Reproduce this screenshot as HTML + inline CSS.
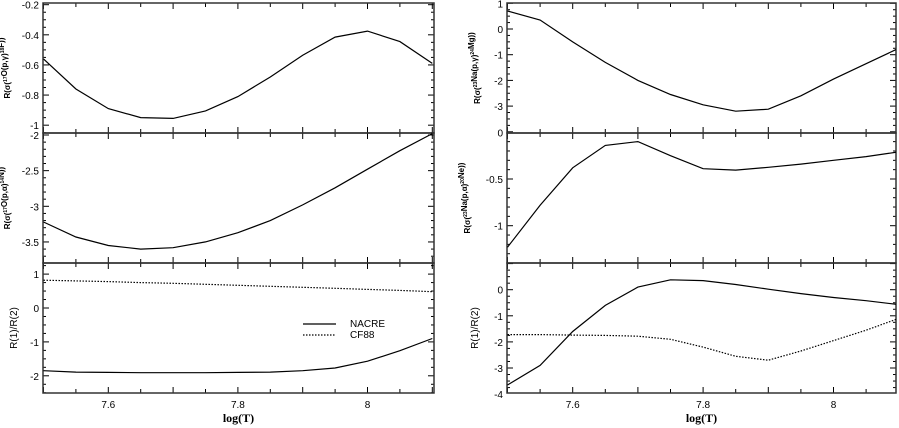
<!DOCTYPE html>
<html><head><meta charset="utf-8"><style>
body{margin:0;background:#fff}
svg{display:block}
text{font-family:"Liberation Sans",sans-serif;font-size:10px;fill:#000}
.yt{font-size:8px;font-weight:bold}
.xt{font-family:"Liberation Serif",serif;font-size:12px;font-weight:bold}
</style></head><body>
<svg id="chart" width="899" height="428" viewBox="0 0 899 428" xmlns="http://www.w3.org/2000/svg"></svg>
<script>
const logT=[7.5,7.55,7.6,7.65,7.7,7.75,7.8,7.85,7.9,7.95,8.0,8.05,8.1];
const o17pg=[-0.56,-0.76,-0.89,-0.95,-0.955,-0.905,-0.81,-0.68,-0.535,-0.415,-0.375,-0.445,-0.59];
const o17pa=[-3.22,-3.43,-3.55,-3.6,-3.58,-3.5,-3.37,-3.2,-2.98,-2.74,-2.48,-2.22,-1.98];
const o17ratioNacre=[-1.85,-1.89,-1.9,-1.91,-1.91,-1.91,-1.9,-1.89,-1.85,-1.77,-1.57,-1.26,-0.9];
const o17ratioCF88=[0.82,0.8,0.78,0.75,0.73,0.7,0.67,0.64,0.61,0.58,0.55,0.52,0.48];
const na23pg=[0.7,0.35,-0.5,-1.3,-2.0,-2.55,-2.95,-3.2,-3.12,-2.6,-1.95,-1.35,-0.75];
const na23pa=[-1.23,-0.78,-0.38,-0.14,-0.10,-0.25,-0.39,-0.405,-0.375,-0.34,-0.3,-0.26,-0.21];
const na23ratioNacre=[-3.65,-2.9,-1.6,-0.6,0.1,0.38,0.35,0.2,0.02,-0.15,-0.3,-0.42,-0.57];
const na23ratioCF88=[-1.72,-1.72,-1.74,-1.75,-1.78,-1.9,-2.2,-2.55,-2.7,-2.35,-1.95,-1.55,-1.1];
const xTicks=["7.6","7.8","8"];
const tl_ticks=["-0.2","-0.4","-0.6","-0.8","-1"];
const ml_ticks=["-2","-2.5","-3","-3.5"];
const bl_ticks=["1","0","-1","-2"];
const tr_ticks=["1","0","-1","-2","-3"];
const mr_ticks=["0","-0.5","-1"];
const br_ticks=["0","-1","-2","-3","-4"];

const svg=document.getElementById('chart');
const NS="http://www.w3.org/2000/svg";
function mk(tag,attrs,parent){const e=document.createElementNS(NS,tag);for(const k in attrs)e.setAttribute(k,attrs[k]);(parent||svg).appendChild(e);return e;}

function panel(o){
  const g=mk('g',{});
  
  
  const xs=v=>o.x0+(v-7.5)*o.xk;
  const ys=v=>o.y0v+(o.v0-v)*o.yk;
  // ticks x
  for(let v=7.5;v<=8.1001;v+=0.05){const px=xs(v);if(px<o.L||px>o.R)continue;
    const big=Math.abs(Math.round(v*10)-v*10)<1e-6;const len=big?6:4;
    mk('line',{x1:px,y1:o.T,x2:px,y2:o.T+len,stroke:'#000'},g);
    mk('line',{x1:px,y1:o.B,x2:px,y2:o.B-len,stroke:'#000'},g);}
  // ticks y
  const lo=(o.B-o.y0v)/-o.yk+o.v0, hi=(o.T-o.y0v)/-o.yk+o.v0;
  const start=Math.ceil(Math.min(lo,hi)/o.minor-1e-6)*o.minor;
  for(let v=start;v<=Math.max(lo,hi)+1e-9;v+=o.minor){const py=ys(v);
    const r=v/o.major;const big=Math.abs(r-Math.round(r))<1e-6;const len=big?6:3;
    mk('line',{x1:o.L,y1:py,x2:o.L+len,y2:py,stroke:'#000'},g);
    mk('line',{x1:o.R,y1:py,x2:o.R-len,y2:py,stroke:'#000'},g);}
  o.ticks.forEach(t=>{const tx=mk('text',{x:o.L-4,y:ys(parseFloat(t))+4,'text-anchor':'end'},g);tx.textContent=t;
    
    });
  mk('rect',{x:o.L,y:o.T,width:o.R-o.L,height:o.B-o.T,fill:'none',stroke:'#333','stroke-width':1.5},g);
  const cp='cp'+o.name;
  const c=mk('clipPath',{id:cp},g);mk('rect',{x:o.L,y:o.T,width:o.R-o.L,height:o.B-o.T},c);
  o.series.forEach(s=>{const pts=logT.map((t,i)=>xs(t).toFixed(1)+','+ys(s.d[i]).toFixed(1)).join(' ');
    const p=mk('polyline',{points:pts,fill:'none',stroke:'#000','stroke-width':1.2,'clip-path':'url(#'+cp+')'},g);
    if(s.dash)p.setAttribute('stroke-dasharray','1.5,1.5');
    
    });
  const cy=(o.T+o.B)/2;
  const yt=mk('text',{x:o.tx,y:cy,'text-anchor':'middle',transform:`rotate(-90 ${o.tx} ${cy})`,class:o.tcls||'yt'},g);
  yt.innerHTML=o.title;
  
  
  if(o.xl){xTicks.forEach(t=>{const tx=mk('text',{x:xs(parseFloat(t)),y:o.B+15,'text-anchor':'middle'},g);tx.textContent=t;
      
      });
    const xt=mk('text',{x:(o.L+o.R)/2,y:422,'text-anchor':'middle',class:'xt'},g);xt.textContent='log(T)';
    
    }
  return g;
}
const sup=s=>`<tspan font-size="5" dy="-3">${s}</tspan><tspan dy="3"></tspan>`;
const Lc={L:43,R:434,x0:43.5,xk:648};
const Rc={L:507,R:896,x0:507.5,xk:652};
panel({...Lc,name:'panel-o17-pg',T:3,B:133,v0:-0.2,y0v:4.7,yk:150.6,major:0.2,minor:0.05,ticks:tl_ticks,tx:10,
  title:'R(σ('+sup('17')+'O(p,γ)'+sup('18')+'F))',series:[{d:o17pg,n:'line-o17-pg'}]});
panel({...Lc,name:'panel-o17-pa',T:133,B:263,v0:-2,y0v:135,yk:71.3,major:0.5,minor:0.1,ticks:ml_ticks,tx:10,
  title:'R(σ('+sup('17')+'O(p,α)'+sup('14')+'N))',series:[{d:o17pa,n:'line-o17-pa'}]});
panel({...Lc,name:'panel-o17-ratio',T:263,B:393,v0:0,y0v:308,yk:33.9,major:1,minor:0.25,ticks:bl_ticks,tx:17,tcls:'rt',xl:true,
  title:'R(1)/R(2)',series:[{d:o17ratioNacre,n:'line-o17-nacre'},{d:o17ratioCF88,n:'line-o17-cf88',dash:1}]});
panel({...Rc,name:'panel-na23-pg',T:3,B:133,v0:0,y0v:29,yk:25.7,major:1,minor:0.25,ticks:tr_ticks,tx:480,
  title:'R(σ('+sup('23')+'Na(p,γ)'+sup('24')+'Mg))',series:[{d:na23pg,n:'line-na23-pg'}]});
panel({...Rc,name:'panel-na23-pa',T:133,B:263,v0:0,y0v:132.3,yk:93.4,major:0.5,minor:0.1,ticks:mr_ticks,tx:470,
  title:'R(σ('+sup('23')+'Na(p,α)'+sup('20')+'Ne))',series:[{d:na23pa,n:'line-na23-pa'}]});
panel({...Rc,name:'panel-na23-ratio',T:263,B:393,v0:0,y0v:289.7,yk:26.1,major:1,minor:0.25,ticks:br_ticks,tx:478,tcls:'rt',xl:true,
  title:'R(1)/R(2)',series:[{d:na23ratioNacre,n:'line-na23-nacre'},{d:na23ratioCF88,n:'line-na23-cf88',dash:1}]});
// legend
const lg=mk('g',{});


mk('line',{x1:303,y1:324,x2:336,y2:324,stroke:'#000','stroke-width':1.2},lg);
mk('line',{x1:303,y1:335,x2:336,y2:335,stroke:'#000','stroke-width':1.2,'stroke-dasharray':'1.5,1.5'},lg);
const t1=mk('text',{x:350,y:327},lg);t1.textContent='NACRE';


const t2=mk('text',{x:350,y:338},lg);t2.textContent='CF88';


</script>
<style>.rt{font-size:10px}</style>
</body></html>
